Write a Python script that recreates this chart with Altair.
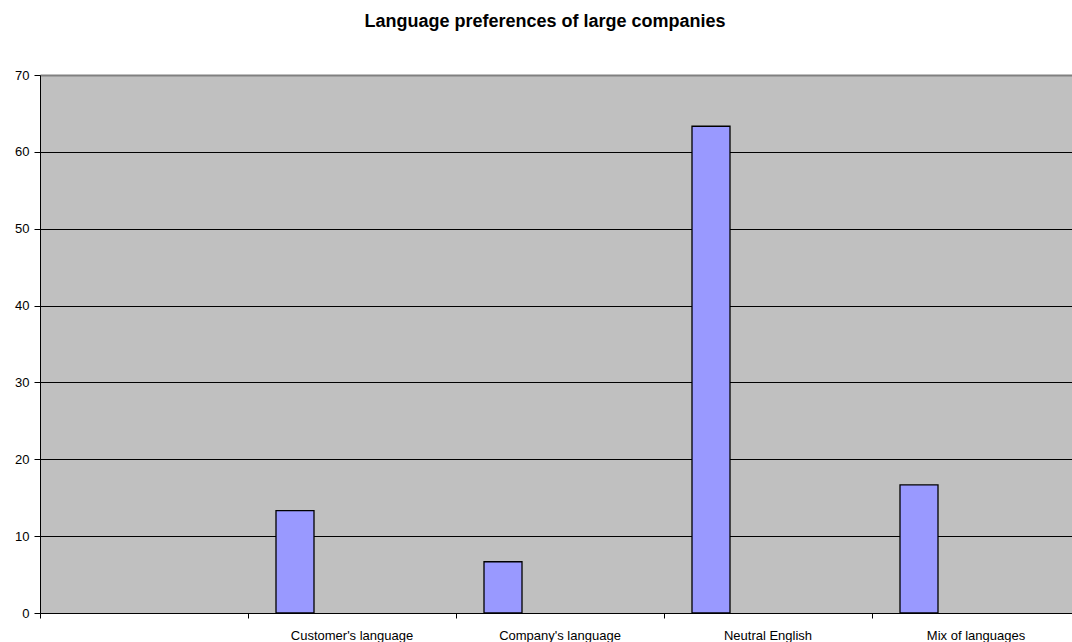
import altair as alt
import pandas as pd

# Share of large companies (%) by preferred language of communication
categories = ["", "Customer's language", "Company's language", "Neutral English", "Mix of languages"]
shares = [None, 13.33, 6.67, 63.33, 16.67]
y_ticks = [0, 10, 20, 30, 40, 50, 60, 70]

df = pd.DataFrame({"category": categories, "share": shares})

font = "Liberation Sans"

x = alt.X(
    "category:N",
    sort=categories,
    title=None,
    scale=alt.Scale(domain=categories, range=[0, 1040], paddingInner=0, paddingOuter=0),
    axis=alt.Axis(
        labelAngle=0,
        labelFont=font,
        labelFontSize=13,
        labelColor="black",
        labelPadding=11,
        tickSize=5,
        tickColor="black",
        domainColor="black",
        bandPosition=0,
        grid=False,
    ),
)

y = alt.Y(
    "share:Q",
    title=None,
    scale=alt.Scale(domain=[0, 70], nice=False),
    axis=alt.Axis(
        values=y_ticks,
        labelFont=font,
        labelFontSize=13,
        labelColor="black",
        labelPadding=5,
        tickSize=6,
        tickColor="black",
        domainColor="black",
        # the top line doubles as the grey plot-area border
        gridColor=alt.condition("datum.value == 70", alt.value("#808080"), alt.value("black")),
        gridWidth=alt.condition("datum.value == 70", alt.value(2), alt.value(1)),
        gridOpacity=1,
    ),
)

bars = (
    alt.Chart(df)
    .mark_bar(
        fill="#9999FF",
        stroke="black",
        strokeWidth=1.3,
        width=38,
        xOffset=-57,
    )
    .encode(x=x, y=y)
    .transform_filter("datum.share != null")
)

chart = (
    bars.properties(
        width=1032,
        height=538,
        title=alt.TitleParams(
            "Language preferences of large companies",
            font=font,
            fontSize=18,
            fontWeight="bold",
            color="black",
            offset=38,
            dx=-11,
        ),
        padding={"left": 40, "top": 75, "right": 0, "bottom": 29},
        autosize=alt.AutoSizeParams(type="none"),
    )
    .configure(background="white")
    .configure_view(fill="#C0C0C0", stroke=None)
)

chart.save("out.html", embed_options={"renderer": "svg", "actions": False})
